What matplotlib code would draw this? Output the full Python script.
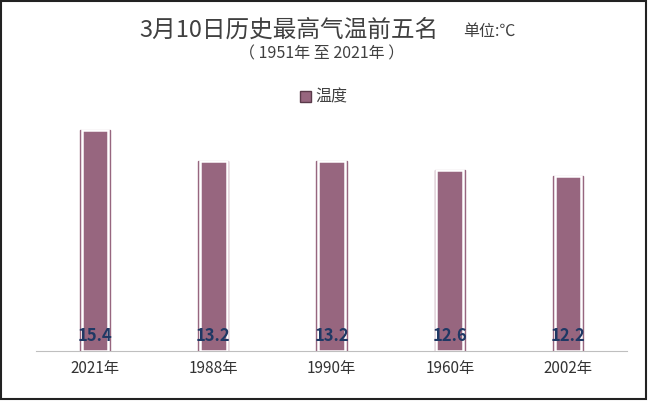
import matplotlib.pyplot as plt
from matplotlib.patches import Rectangle

plt.rcParams["font.family"] = ["Noto Sans CJK SC", "DejaVu Sans"]

years = ["2021年", "1988年", "1990年", "1960年", "2002年"]
temps = [15.4, 13.2, 13.2, 12.6, 12.2]
BAR = "#97667f"

fig = plt.figure(figsize=(6.5, 4.02), dpi=100)
ax = fig.add_axes([0.055, 0.125, 0.91, 0.555])

x = range(len(years))
# outer mauve rim, then white-edged bar on top
ax.bar(x, temps, width=0.255, color=BAR, edgecolor=BAR, linewidth=1.0, zorder=2)
ax.bar(x, temps, width=0.225, color=BAR, edgecolor="white", linewidth=1.8, zorder=3)
for i, t in enumerate(temps):
    ax.text(i, 1.1, f"{t}", ha="center", va="center", fontsize=12,
            fontweight="bold", color="#1f3864", zorder=4)

ax.set_xlim(-0.5, len(years) - 0.5)
ax.set_ylim(0, 15.4 / 0.99)
ax.set_xticks(list(x))
ax.set_xticklabels(years, fontsize=11, color="#333333")
ax.set_yticks([])
ax.tick_params(axis="x", length=0, pad=6)
for s in ("top", "right", "left"):
    ax.spines[s].set_visible(False)
ax.spines["bottom"].set_color("#bfbfbf")

fig.text(0.445, 0.925, "3月10日历史最高气温前五名", ha="center", va="center",
         fontsize=17, color="#404040")
fig.text(0.712, 0.922, "单位:℃", ha="left", va="center", fontsize=11.5, color="#404040")
fig.text(0.495, 0.866, "（ 1951年 至 2021年 ）", ha="center", va="center",
         fontsize=11.5, color="#404040")

fig.patches.append(Rectangle((0.462, 0.744), 0.017, 0.028, transform=fig.transFigure,
                             facecolor=BAR, edgecolor="#5a3a4a", lw=1.0))
fig.text(0.485, 0.758, "温度", ha="left", va="center", fontsize=11.5, color="#404040")

fig.patches.append(Rectangle((0.002, 0.004), 0.992, 0.99, transform=fig.transFigure,
                             facecolor="none", edgecolor="#222222", lw=1.5))

fig.savefig("out.png", dpi=100)
